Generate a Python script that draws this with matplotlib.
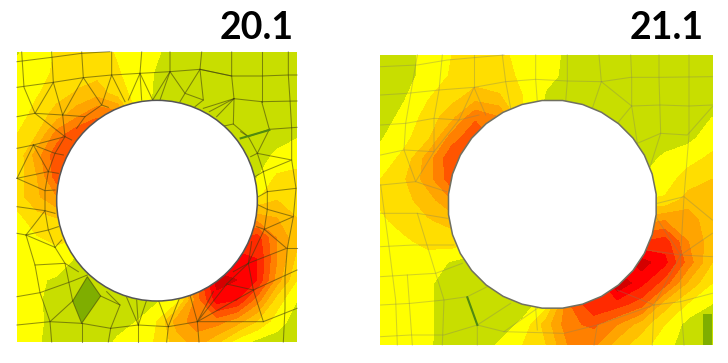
import numpy as np
import matplotlib
matplotlib.use("Agg")
import matplotlib.pyplot as plt
from matplotlib.colors import ListedColormap, BoundaryNorm
from matplotlib.patches import Circle, RegularPolygon, Polygon

# band colours of the contour legend, low to high
band_colors = ["#7FAE00", "#C8DE00", "#FFFF00", "#FFDE00", "#FFC000", "#FFA400",
               "#FF8000", "#FF5500", "#FF2A00", "#FF0000", "#D40000", "#A00000"]
band_levels = list(range(13))

titles = ["20.1", "21.1"]

# reference positions (3x picture units)
left_x = [51, 111, 171, 231, 291, 351, 411, 471, 531, 591, 651, 711, 771, 831, 891]
left_y = [156, 218, 280, 342, 404, 466, 528, 590, 654, 714, 777, 840, 900, 963, 1026]
left_values = [
    [1.9, 2.5, 3.1, 3.5, 3.4, 2.9, 2.5, 2.1, 1.6, 1.5, 1.5, 1.5, 1.5, 1.5, 1.5],
    [2.3, 2.6, 3.2, 3.6, 3.6, 3.1, 2.5, 1.9, 1.5, 1.5, 1.5, 1.5, 1.5, 1.5, 1.5],
    [2.3, 2.9, 3.6, 4.1, 4.6, 3.5, 2.6, 1.8, 1.5, 1.5, 1.5, 1.5, 1.5, 1.5, 1.5],
    [2.4, 3.4, 4.4, 5.6, 6.8, 6.5, 3.0, 1.5, 1.5, 1.5, 1.5, 1.5, 1.5, 1.5, 1.5],
    [3.0, 4.0, 6.5, 7.8, 7.8, 7.0, 3.0, 1.5, 1.5, 1.5, 1.5, 1.4, 1.4, 1.5, 1.9],
    [3.2, 5.5, 7.7, 7.8, 7.0, 5.0, 3.0, 2.0, 1.5, 1.5, 1.4, 1.4, 1.5, 2.2, 2.4],
    [3.4, 5.0, 7.6, 7.5, 6.0, 4.0, 3.0, 2.0, 2.0, 2.0, 1.8, 1.6, 1.9, 3.1, 3.3],
    [3.5, 4.8, 6.0, 5.0, 4.0, 3.0, 3.0, 3.0, 3.0, 3.0, 3.0, 3.0, 2.8, 3.8, 3.5],
    [2.7, 3.6, 4.0, 3.5, 3.0, 3.0, 3.0, 4.0, 4.0, 5.0, 5.0, 5.5, 5.5, 5.0, 4.0],
    [2.4, 2.9, 3.3, 3.0, 2.5, 3.0, 3.0, 4.0, 5.0, 6.0, 7.0, 8.0, 8.5, 5.9, 4.3],
    [2.2, 2.3, 2.4, 1.9, 1.8, 2.0, 3.0, 4.0, 5.0, 7.0, 9.0, 9.5, 9.0, 6.0, 3.7],
    [2.1, 2.1, 1.9, 1.4, 1.2, 1.5, 2.0, 3.0, 4.0, 7.0, 10.5, 10.0, 9.0, 5.5, 3.0],
    [2.1, 2.1, 1.7, 1.3, 1.3, 1.5, 1.6, 1.8, 2.5, 6.5, 9.5, 9.0, 6.5, 3.5, 2.0],
    [2.1, 2.1, 1.8, 1.2, 1.5, 1.7, 2.0, 3.0, 5.5, 6.5, 6.5, 5.5, 4.0, 2.5, 1.5],
    [2.1, 2.1, 1.6, 1.4, 1.6, 2.1, 2.5, 3.1, 4.5, 5.5, 4.2, 2.5, 1.7, 1.5, 1.5],
]

right_x = [50, 121, 192, 263, 334, 405, 476, 547, 618, 689, 760, 831, 902, 973, 1045]
right_y = [165, 227, 289, 351, 414, 476, 538, 600, 662, 725, 787, 849, 911, 973, 1035]
right_values = [
    [1.5, 1.7, 2.3, 3.0, 3.3, 3.3, 2.6, 2.3, 1.8, 1.5, 1.5, 1.5, 1.5, 1.5, 1.5],
    [1.5, 1.6, 2.4, 3.1, 3.5, 3.4, 2.8, 2.2, 1.8, 1.5, 1.5, 1.5, 1.5, 1.5, 1.5],
    [1.5, 1.9, 2.9, 3.6, 4.4, 4.1, 3.0, 1.9, 1.5, 1.5, 1.5, 1.5, 1.5, 1.5, 1.5],
    [1.5, 2.3, 3.4, 4.6, 6.8, 6.0, 3.0, 1.8, 1.5, 1.5, 1.5, 1.5, 1.5, 1.5, 2.0],
    [1.9, 2.7, 3.8, 6.5, 7.8, 6.5, 3.0, 1.8, 1.5, 1.5, 1.5, 1.5, 1.5, 1.7, 2.6],
    [2.4, 3.3, 5.5, 7.8, 7.6, 5.5, 3.0, 2.0, 1.5, 1.5, 1.5, 1.5, 2.2, 2.7, 3.2],
    [3.0, 3.9, 5.5, 7.6, 6.5, 5.0, 3.0, 2.0, 2.0, 2.0, 2.0, 2.0, 2.6, 3.4, 4.0],
    [3.2, 3.7, 4.5, 6.0, 5.0, 4.0, 3.0, 3.0, 3.0, 3.0, 3.0, 3.0, 3.1, 4.5, 4.5],
    [2.8, 3.4, 3.9, 4.3, 4.0, 3.5, 3.0, 3.0, 4.0, 5.0, 5.0, 5.5, 6.0, 5.6, 4.2],
    [2.4, 2.8, 3.3, 3.5, 3.0, 3.0, 3.0, 4.0, 5.0, 6.0, 7.0, 8.0, 8.5, 6.0, 4.4],
    [2.2, 2.3, 2.5, 1.9, 1.4, 2.0, 3.0, 4.0, 5.0, 7.0, 9.0, 10.5, 9.3, 6.5, 4.0],
    [2.1, 2.1, 2.1, 1.7, 1.4, 1.5, 2.0, 3.0, 5.0, 8.0, 11.0, 9.3, 7.5, 4.8, 3.0],
    [2.1, 2.1, 2.1, 1.7, 1.4, 1.4, 1.5, 2.5, 7.0, 9.0, 8.5, 7.5, 4.5, 2.9, 2.0],
    [2.1, 2.1, 2.1, 1.7, 1.4, 1.5, 2.2, 4.5, 6.8, 7.2, 6.0, 4.5, 3.0, 1.6, 1.4],
    [2.1, 2.1, 2.1, 1.6, 1.4, 2.1, 3.0, 4.0, 6.2, 6.2, 4.5, 3.4, 2.4, 1.4, 1.4],
]

# mesh edges
left_mesh = [
    [(51, 185), (155, 172), (245, 160), (330, 155)],
    [(51, 262), (160, 247), (250, 233), (335, 225), (420, 220), (510, 215), (600, 208), (695, 228), (785, 228), (865, 225), (891, 225)],
    [(65, 156), (72, 262), (105, 340), (195, 410), (165, 460), (145, 515), (135, 572), (135, 632), (78, 705), (105, 795), (120, 878), (150, 965), (155, 1026)],
    [(155, 156), (160, 247), (105, 340), (51, 350)],
    [(245, 156), (250, 233), (305, 315), (255, 350), (188, 345), (160, 247)],
    [(188, 345), (250, 233)], [(188, 345), (105, 340)], [(188, 345), (195, 410)], [(255, 350), (230, 385)],
    [(335, 156), (335, 225), (375, 305)], [(335, 225), (305, 315), (325, 322)],
    [(425, 156), (420, 220), (458, 300)], [(420, 220), (385, 300)], [(420, 220), (425, 300)],
    [(510, 156), (510, 215), (458, 300)], [(510, 215), (480, 300)], [(510, 215), (555, 280), (540, 305)],
    [(605, 156), (600, 208), (555, 280), (610, 300), (585, 320)], [(600, 208), (610, 300)],
    [(695, 156), (695, 228), (702, 296), (785, 305), (808, 388), (745, 410), (700, 372), (702, 296)],
    [(702, 296), (610, 325)], [(702, 296), (628, 335)], [(702, 296), (650, 350)], [(700, 372), (672, 378)],
    [(785, 156), (785, 228), (785, 305)], [(695, 228), (600, 208)],
    [(865, 156), (865, 225), (870, 300), (875, 385), (875, 480), (888, 565), (880, 650), (862, 745), (855, 830), (855, 925), (850, 1026)],
    [(785, 305), (891, 303)], [(808, 388), (891, 382)], [(808, 388), (772, 460), (745, 410), (722, 395)],
    [(772, 460), (875, 480), (790, 515), (772, 460)], [(772, 460), (752, 470)], [(790, 515), (765, 530)],
    [(790, 515), (802, 575), (888, 565)], [(802, 575), (775, 590)], [(802, 575), (802, 628), (775, 615)],
    [(802, 628), (880, 650), (793, 688), (802, 628)], [(793, 688), (770, 680)], [(793, 688), (860, 745), (745, 790), (793, 688)],
    [(860, 745), (891, 745)], [(745, 790), (760, 870), (680, 852), (745, 790)], [(745, 790), (755, 725)], [(745, 790), (700, 815)],
    [(760, 870), (891, 810)], [(760, 870), (790, 965)], [(680, 852), (592, 965), (640, 875)], [(760, 870), (592, 965)],
    [(51, 975), (150, 965), (245, 970), (332, 985), (415, 975), (505, 980), (592, 965), (790, 965), (891, 925)],
    [(592, 965), (570, 885)], [(592, 965), (597, 1026)], [(505, 980), (475, 900)], [(505, 980), (540, 890)], [(505, 980), (500, 1026)],
    [(415, 975), (380, 892)], [(415, 975), (410, 900)], [(415, 975), (440, 900)], [(415, 975), (415, 1026)],
    [(332, 985), (360, 915), (320, 875)], [(360, 915), (302, 888)], [(332, 985), (325, 1026)],
    [(245, 970), (302, 888), (262, 830), (218, 903), (245, 970)], [(245, 970), (245, 1026)],
    [(218, 903), (150, 965)], [(218, 903), (195, 790), (165, 742), (145, 690), (135, 632), (165, 640)],
    [(51, 890), (120, 878), (218, 843), (262, 825)], [(105, 795), (195, 790), (235, 815)], [(165, 742), (185, 720)],
    [(78, 705), (145, 690), (175, 680)], [(78, 705), (165, 742)], [(78, 705), (51, 700)], [(135, 632), (51, 620)],
    [(51, 535), (135, 572), (165, 570)], [(51, 535), (145, 515), (175, 520)], [(51, 445), (100, 435), (195, 410), (215, 420)],
    [(100, 435), (145, 515)], [(100, 435), (165, 460), (190, 465)], [(51, 535), (100, 435)],
]
right_mesh = [
    [(50, 200), (160, 195), (250, 180), (420, 165)],
    [(50, 285), (130, 280), (225, 270), (330, 262), (425, 245), (515, 238), (610, 243), (712, 245), (800, 232), (885, 232), (1045, 230)],
    [(50, 375), (125, 370), (210, 355), (285, 360), (345, 345)],
    [(50, 465), (120, 450), (210, 455), (285, 360), (330, 262), (365, 345)],
    [(50, 555), (155, 545), (248, 575)], [(50, 640), (160, 640), (250, 655)], [(50, 740), (150, 735), (270, 735)],
    [(50, 830), (130, 825), (215, 820), (295, 790)], [(50, 915), (140, 910), (240, 900), (310, 890), (370, 860)],
    [(50, 1010), (140, 1005), (240, 1005), (340, 975), (440, 910)], [(340, 975), (420, 995), (520, 925)],
    [(420, 995), (600, 1000), (700, 975), (870, 915), (950, 905), (1045, 880)],
    [(160, 165), (125, 370), (120, 450), (155, 545), (210, 455), (210, 355), (225, 270), (235, 165)],
    [(330, 165), (330, 262)], [(415, 165), (425, 245), (440, 325)], [(515, 165), (515, 238), (520, 305)],
    [(610, 165), (610, 243), (605, 305)], [(705, 165), (712, 245), (685, 325)], [(712, 245), (803, 318), (760, 370)],
    [(800, 165), (803, 232), (803, 318), (820, 430)], [(885, 165), (885, 232), (890, 400), (860, 495)],
    [(820, 430), (890, 400), (970, 405), (1045, 320)], [(975, 165), (975, 405), (960, 590), (950, 765), (950, 905), (960, 1035)],
    [(803, 318), (890, 315), (975, 318), (1045, 315)],
    [(880, 610), (960, 590), (1045, 660)], [(875, 650), (950, 765), (1045, 700)], [(950, 765), (850, 750)],
    [(950, 765), (870, 915)], [(50, 555), (75, 740), (95, 900), (100, 1035)], [(160, 640), (215, 820), (240, 900), (235, 1035)],
    [(130, 825), (145, 1035)], [(310, 890), (340, 975), (340, 1035)], [(700, 975), (690, 1035)], [(760, 870), (870, 915), (865, 1035)],
    [(515, 925), (520, 990)], [(1045, 770), (950, 765)],
]

# darker elements
left_quad = [(262, 830), (302, 888), (245, 970), (218, 903)]
left_sliver = [(722, 415), (808, 390)]
right_quad = [(1016, 943), (1045, 943), (1045, 1035), (1016, 1035)]
right_sliver = [(310, 892), (340, 975)]

cmap = ListedColormap(band_colors)
norm = BoundaryNorm(band_levels, cmap.N)


def draw_panel(ax, xs, ys, values, mesh, quad, sliver, line_color, line_alpha, title, title_x):
    ax.contourf(xs, ys, np.array(values), levels=band_levels, cmap=cmap, norm=norm)
    ax.add_patch(Polygon(quad, closed=True, fc=band_colors[0], ec="none", zorder=2))
    for edge in mesh:
        ax.plot(*zip(*edge), color=line_color, lw=0.75, alpha=line_alpha, zorder=3,
                solid_joinstyle="round")
    ax.plot(*zip(*sliver), color="#4F8A10", lw=1.5, zorder=3)
    ax.text(title_x, 118, title, ha="right", va="baseline", fontsize=27,
            fontweight="bold", family="Lato", color="black")
    ax.set_xlim(0, 1092)
    ax.set_ylim(1089, 0)
    ax.axis("off")


fig = plt.figure(figsize=(7.28, 3.63), dpi=100)
ax1 = fig.add_axes([0, 0, 0.5, 1])
ax2 = fig.add_axes([0.5, 0, 0.5, 1])

draw_panel(ax1, left_x, left_y, left_values, left_mesh, left_quad, left_sliver,
           "#3A3A10", 0.55, titles[0], 882)
draw_panel(ax2, right_x, right_y, right_values, right_mesh, right_quad, right_sliver,
           "#808060", 0.35, titles[1], 1020)

ax1.add_patch(Circle((471, 602), 301, fc="white", ec="#555555", lw=1.1, zorder=4))
ax2.add_patch(RegularPolygon((565, 613), 32, radius=313, orientation=np.pi / 32,
                             fc="white", ec="#707060", lw=1.1, zorder=4))

fig.savefig("out.png", dpi=100, facecolor="white")
